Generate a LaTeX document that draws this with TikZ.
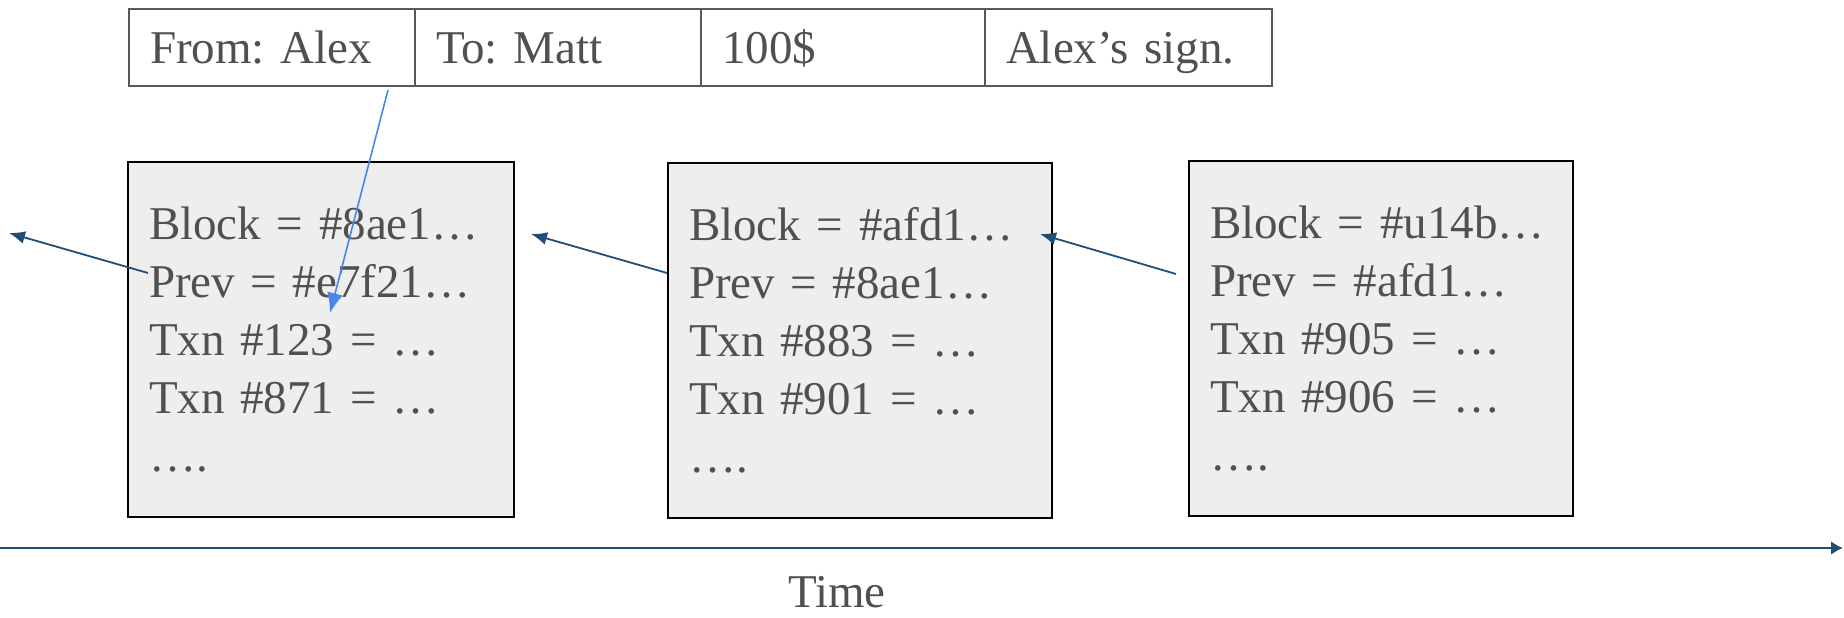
\documentclass[tikz,border=0pt]{standalone}
\usepackage{fontspec}
\setmainfont{Liberation Serif}
\usetikzlibrary{arrows.meta}
\frenchspacing
\definecolor{txt}{HTML}{505050}
\definecolor{cellborder}{HTML}{595959}
\definecolor{blockfill}{HTML}{EEEEEE}
\definecolor{darkblue}{HTML}{1F4E79}
\definecolor{lightblue}{HTML}{4A86E8}
\tikzset{
  cell/.style={draw=cellborder, line width=2pt, rectangle, minimum height=77pt,
    text height=32pt, text depth=0pt, inner xsep=21pt, inner ysep=0pt, anchor=north west,
    font=\fontsize{47}{58}\selectfont, text=txt, align=left},
  blockbox/.style={draw=black, line width=2pt, fill=blockfill, rectangle, anchor=north west,
    minimum height=355pt, inner xsep=21pt, inner ysep=0pt, align=left,
    font=\fontsize{47}{58}\selectfont, text=txt},
  chain/.style={draw=darkblue, line width=1.8pt, -{Latex[length=16pt,width=13pt]}},
  txnlink/.style={draw=lightblue, line width=1.6pt, -{Latex[length=20pt,width=16pt]}},
  timeline/.style={draw=darkblue, line width=2.6pt, -{Latex[length=12pt,width=14pt]}},
  lbl/.style={font=\fontsize{47}{58}\selectfont, text=txt, inner sep=0pt}
}
\begin{document}
\begin{tikzpicture}[x=1pt,y=-1pt]
\useasboundingbox (0,0) rectangle (1844,618);
% transaction table
\node[cell, minimum width=286pt, text width=244pt] (c1) at (128,8) {From: Alex};
\node[cell, minimum width=286pt, text width=244pt] (c2) at (414,8) {To: Matt};
\node[cell, minimum width=284pt, text width=242pt] (c3) at (700,8) {100\$};
\node[cell, minimum width=287pt, text width=245pt] (c4) at (984,8) {Alex’s sign.};
% blocks
\node[blockbox, minimum width=386pt, text width=344pt] (b1) at (127,161)
  {Block = \#8ae1…\\Prev = \#e7f21…\\Txn \#123 = …\\Txn \#871 = …\\….};
\node[blockbox, minimum width=384pt, text width=342pt] (b2) at (667,162)
  {Block = \#afd1…\\Prev = \#8ae1…\\Txn \#883 = …\\Txn \#901 = …\\….};
\node[blockbox, minimum width=384pt, text width=342pt] (b3) at (1188,160)
  {Block = \#u14b…\\Prev = \#afd1…\\Txn \#905 = …\\Txn \#906 = …\\….};
% chain connectors
\coordinate (p1) at (148,273);
\coordinate (e1) at (9,233);
\coordinate (p2) at (667,273);
\coordinate (e2) at (531,234);
\coordinate (p3) at (1176,274);
\coordinate (e3) at (1040,234);
\draw[chain] (p1) -- (e1);
\draw[chain] (p2) -- (e2);
\draw[chain] (p3) -- (e3);
% transaction into block
\coordinate (ts) at (388,90);
\coordinate (te) at (330,313);
\draw[txnlink] (ts) -- (te);
% time axis
\coordinate (t0) at (0,548);
\coordinate (t1) at (1843,548);
\draw[timeline] (t0) -- (t1);
\node[lbl, anchor=base] (time) at (837,607) {Time};
\end{tikzpicture}
\end{document}
